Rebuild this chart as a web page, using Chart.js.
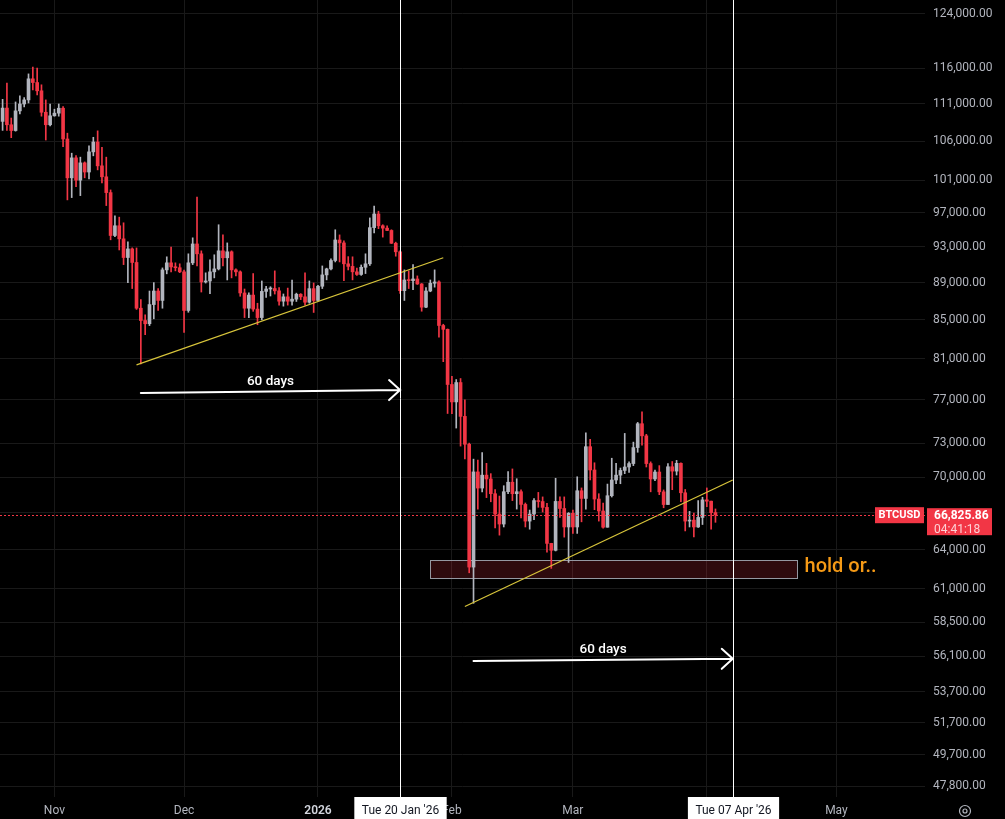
<!DOCTYPE html>
<html>
<head>
<meta charset="utf-8">
<title>BTCUSD daily</title>
<script src="https://cdn.jsdelivr.net/npm/chart.js@4.4.1/dist/chart.umd.min.js"></script>
<style>
    html, body { margin: 0; padding: 0; background: #000; overflow: hidden; }
    #wrap { width: 1005px; height: 819px; }
    canvas { display: block; }
</style>
</head>
<body>
<div id="wrap"><canvas id="btcChart" width="1005" height="819"></canvas></div>
<script>
document.addEventListener('DOMContentLoaded', () => {

    // --- CANDLES (daily, first one is 20 Oct 2025) ---
    const firstDay = '2025-10-20';
    const opens = [
        108600,110400,108150,107380,110020,110960,111520,114460,113940,112780,
        109830,108150,109350,109710,110380,106270,101290,103820,101000,103180,
        102020,104590,105870,102800,101420,99460,94330,95470,93940,91800,
        92780,91240,86230,84930,84590,86620,88080,87060,90410,91200,
        90740,90650,90190,85990,91200,93350,92220,89070,89180,90190,
        90520,92560,91770,92450,90410,90190,87870,86230,87640,86140,
        85240,88040,88300,88350,88100,86980,87450,86980,87200,87730,
        87450,86870,88340,87060,88600,89850,90520,91460,93810,93470,
        91090,90800,90190,89900,90700,91090,95250,96870,95470,95190,
        94920,93430,92450,88120,89290,89220,89400,88850,86340,88080,
        88930,89070,84410,84010,78480,76810,78670,75450,72900,62640,
        70450,69060,70170,69840,68580,66880,66060,68750,69560,68580,
        68750,67680,66300,66880,68000,67920,67430,64500,63950,67930,
        67340,65820,66940,65820,68830,68180,72680,70620,68130,67130,
        65800,68410,69750,70170,70580,70880,71180,72600,74770,73660,
        71180,69840,70440,68740,67670,70900,70520,71200,68660,66300,
        66380,65820,66600,68060,67950,67000
    ];
    const highs = [
        111600,113860,109050,111240,112080,111840,115160,116150,116000,113620,
        111520,110960,110250,110960,110600,107030,104420,104120,103910,103300,
        105360,106490,107340,105190,103910,99790,96650,96490,95820,93590,
        92900,92890,87160,85530,88080,89000,88350,90630,91880,93000,
        91200,91090,90400,92220,94060,98900,92560,90080,91540,92110,
        95590,94410,93470,92560,90520,90300,88300,87870,90000,86760,
        89180,88600,88550,90300,88450,87760,88400,89290,87850,87800,
        90080,89180,88960,88700,90850,90600,91650,95000,94400,93700,
        91900,91880,90600,90960,92220,96400,97830,97200,95590,95470,
        95000,93560,92560,90410,90300,91000,89740,88900,88460,89290,
        90410,89200,84540,84050,79280,78960,79060,77000,73000,71570,
        71480,72150,71200,70300,68930,68380,69260,70490,70710,69860,
        68910,67800,67210,68170,68690,68310,67760,64510,69900,68310,
        68310,67000,67200,70030,69070,73940,73340,71250,68580,67800,
        69400,71650,71200,70790,73880,71330,73090,74890,75880,73800,
        71330,70620,71000,68900,71180,71360,71460,71250,68940,67100,
        66960,68000,68280,69070,67950,67300
    ];
    const lows = [
        107400,107400,106440,107300,109620,110560,111100,112920,112220,109300,
        106130,108000,109300,109300,105270,98570,98850,100190,99090,101290,
        101170,104080,102290,100670,97880,93830,94200,92660,91000,89000,
        88350,86100,80490,83460,84400,85110,85990,86230,89970,90190,
        90300,90100,83700,85800,91000,90850,87970,88950,87780,89520,
        90400,90850,89290,89520,89740,87510,85240,85240,85900,84490,
        85000,87400,87540,87750,86560,86450,86560,86560,86950,87150,
        86560,86760,85780,87000,88350,89300,90400,91300,91300,89200,
        90400,89300,89800,89800,90000,90900,94630,95130,94140,94900,
        93400,91950,87820,87060,88350,88240,88800,85910,86300,88000,
        88500,83210,80720,75720,75700,74370,72730,71600,62200,59900,
        67290,68740,68250,67900,65740,65160,65820,68580,68000,67290,
        66560,65820,65640,66420,67440,67050,63800,62540,63900,66600,
        65000,63000,65300,65300,66240,67290,69750,67240,66300,65730,
        65800,68300,69430,69430,70300,70400,71000,72180,72820,70880,
        68740,69700,68500,67400,67670,68920,70180,67900,65500,65820,
        65020,65780,66020,67490,65640,66200
    ];
    const closes = [
        110400,108150,107380,110020,110960,111520,114460,113940,112780,109830,
        108150,109350,109710,110380,106270,101290,103820,101000,103180,102020,
        104590,105870,102800,101420,99460,94330,95470,93940,91800,92780,
        91240,86230,84930,84590,86620,88080,87060,90410,91200,90740,
        90650,90190,85990,91200,93350,92220,89070,89180,90190,90520,
        92560,91770,92450,90410,90190,87870,86230,87640,86140,85240,
        88040,88300,88350,88100,86980,87450,86980,87200,87730,87450,
        86870,88340,87060,88600,89850,90520,91460,93810,93470,91090,
        90800,90190,89900,90700,91090,95250,96870,95470,95190,94920,
        93430,92450,88120,89290,89220,89400,88850,86340,88080,88930,
        89070,84410,84010,78480,76810,78670,75450,72900,62640,70450,
        69060,70170,69840,68580,66880,66060,68750,69560,68580,68750,
        67680,66300,66880,68000,67920,67430,64500,63950,67930,67340,
        65820,66940,65820,68830,68180,72680,70620,68130,67130,65800,
        68410,69750,70170,70580,70880,71180,72600,74770,73660,71180,
        69840,70440,68740,67670,70900,70520,71200,68660,66300,66380,
        65820,66600,68060,67950,67000,66825.86
    ];

    // --- AXIS TICKS ---
    const priceTicks = [124000, 116000, 111000, 106000, 101000, 97000, 93000, 89000, 85000, 81000,
        77000, 73000, 70000, 67000, 64000, 61000, 58500, 56100, 53700, 51700, 49700, 47800];
    const hiddenPriceTicks = [67000];   // sits under the last price tag
    const monthDates = ['2025-11-01', '2025-12-01', '2026-01-01', '2026-02-01', '2026-03-01', '2026-04-01', '2026-05-01'];
    const monthLabels = ['Nov', 'Dec', '2026', 'Feb', 'Mar', 'Apr', 'May'];

    // --- DRAWINGS ON THE CHART ---
    const trendTop = [['2025-11-20', 80400], ['2026-01-30', 91770]];
    const trendBottom = [['2026-02-04', 59670], ['2026-04-07', 69750]];
    const arrows = [
        [['2025-11-21', 77660], ['2026-01-20', 77940]],
        [['2026-02-06', 55790], ['2026-04-07', 55930]]
    ];
    const arrowLabels = ['60 days', '60 days'];
    const markerDates = ['2026-01-20', '2026-04-07'];
    const markerLabels = ["Tue 20 Jan '26", "Tue 07 Apr '26"];
    const zoneDates = ['2026-01-27', '2026-04-22'];
    const zonePrices = [63170, 61780];
    const zoneLabel = 'hold or..';
    const symbol = 'BTCUSD';
    const countdown = '04:41:18';

    // --- HELPERS ---
    const DAY = 86400000;
    const origin = Date.parse('2026-01-01T00:00:00Z');
    const dayOf = (s) => (Date.parse(s + 'T00:00:00Z') - origin) / DAY;
    const monthDays = monthDates.map(dayOf);
    const start = dayOf(firstDay);
    const fmt = (v) => Number(v).toLocaleString('en-US', { minimumFractionDigits: 2, maximumFractionDigits: 2 });
    const FONT = 'Roboto, "Noto Sans", sans-serif';

    const upColor = '#b2b5be';
    const downColor = '#f23645';
    const candleColors = closes.map((c, i) => (c >= opens[i] ? upColor : downColor));
    const bodyData = closes.map((c, i) => ({ x: start + i, y: [opens[i], c] }));
    const wickData = closes.map((c, i) => ({ x: start + i, y: [lows[i], highs[i]] }));
    const lineData = (pts) => pts.map(p => ({ x: dayOf(p[0]), y: p[1] }));
    const gridColor = '#191919';

    // --- OVERLAY PLUGIN (zone, price line, arrows, markers, tags) ---
    const overlay = {
        id: 'overlay',
        beforeDraw(chart) {
            const { ctx, width, height } = chart;
            ctx.save();
            ctx.fillStyle = '#000';
            ctx.fillRect(0, 0, width, height);
            ctx.restore();
        },
        beforeDatasetsDraw(chart) {
            const { ctx, scales: { x, y } } = chart;
            const x1 = x.getPixelForValue(dayOf(zoneDates[0]));
            const x2 = x.getPixelForValue(dayOf(zoneDates[1]));
            const y1 = y.getPixelForValue(zonePrices[0]);
            const y2 = y.getPixelForValue(zonePrices[1]);
            ctx.save();
            ctx.fillStyle = 'rgba(242, 54, 69, 0.19)';
            ctx.fillRect(x1, y1, x2 - x1, y2 - y1);
            ctx.strokeStyle = '#9598a1';
            ctx.lineWidth = 1;
            ctx.strokeRect(Math.round(x1) + 0.5, Math.round(y1) + 0.5, Math.round(x2 - x1), Math.round(y2 - y1));
            ctx.restore();
        },
        afterDatasetsDraw(chart) {
            const { ctx, chartArea: area, scales: { x, y } } = chart;
            ctx.save();

            // last price line
            const lastY = Math.round(y.getPixelForValue(closes[closes.length - 1])) + 0.5;
            ctx.strokeStyle = downColor;
            ctx.lineWidth = 1;
            ctx.setLineDash([2, 2]);
            ctx.beginPath();
            ctx.moveTo(area.left, lastY);
            ctx.lineTo(area.right, lastY);
            ctx.stroke();
            ctx.setLineDash([]);

            // 60 days arrows
            arrows.forEach((a, i) => {
                const x1 = x.getPixelForValue(dayOf(a[0][0]));
                const y1 = y.getPixelForValue(a[0][1]);
                const x2 = x.getPixelForValue(dayOf(a[1][0]));
                const y2 = y.getPixelForValue(a[1][1]);
                ctx.strokeStyle = '#ffffff';
                ctx.lineWidth = 2;
                ctx.lineCap = 'round';
                ctx.beginPath();
                ctx.moveTo(x1, y1);
                ctx.lineTo(x2, y2);
                ctx.moveTo(x2 - 11, y2 - 10);
                ctx.lineTo(x2, y2);
                ctx.lineTo(x2 - 11, y2 + 10);
                ctx.stroke();
                ctx.fillStyle = '#ffffff';
                ctx.font = '500 13.5px ' + FONT;
                ctx.textAlign = 'center';
                ctx.textBaseline = 'alphabetic';
                ctx.fillText(arrowLabels[i], (x1 + x2) / 2, (y1 + y2) / 2 - 7);
            });

            // zone text
            const zx = x.getPixelForValue(dayOf(zoneDates[1]));
            const zy = y.getPixelForValue(zonePrices[1]);
            ctx.fillStyle = '#f59a16';
            ctx.font = '500 20px ' + FONT;
            ctx.textAlign = 'left';
            ctx.fillText(zoneLabel, zx + 7, zy - 6);
            ctx.restore();
        },
        afterDraw(chart) {
            const { ctx, chartArea: area, scales: { x, y } } = chart;
            ctx.save();

            // vertical markers + their date boxes
            markerDates.forEach((d, i) => {
                const mx = Math.round(x.getPixelForValue(dayOf(d))) + 0.5;
                ctx.strokeStyle = '#ffffff';
                ctx.lineWidth = 1;
                ctx.beginPath();
                ctx.moveTo(mx, area.top);
                ctx.lineTo(mx, area.bottom);
                ctx.stroke();

                ctx.font = '12px ' + FONT;
                const w = ctx.measureText(markerLabels[i]).width + 15;
                ctx.fillStyle = '#ffffff';
                ctx.fillRect(mx - w / 2, area.bottom, w, chart.height - area.bottom);
                ctx.fillStyle = '#131722';
                ctx.textAlign = 'center';
                ctx.textBaseline = 'middle';
                ctx.fillText(markerLabels[i], mx, area.bottom + 14);
            });

            // last price tags
            const lastY = y.getPixelForValue(closes[closes.length - 1]);
            ctx.fillStyle = downColor;
            ctx.fillRect(area.right - 50, lastY - 7.5, 49, 16);
            ctx.fillRect(area.right + 2, lastY - 6.5, 65, 27);
            ctx.fillStyle = '#ffffff';
            ctx.font = 'bold 11px ' + FONT;
            ctx.textAlign = 'center';
            ctx.textBaseline = 'middle';
            ctx.fillText(symbol, area.right - 25.5, lastY + 0.5);
            ctx.textAlign = 'left';
            ctx.font = 'bold 12px ' + FONT;
            ctx.fillText(fmt(closes[closes.length - 1]), area.right + 9, lastY + 1);
            ctx.fillStyle = 'rgba(255, 225, 228, 0.9)';
            ctx.font = '12px ' + FONT;
            ctx.fillText(countdown, area.right + 9, lastY + 15);

            // settings icon bottom right
            ctx.strokeStyle = '#b2b5be';
            ctx.lineWidth = 1.2;
            ctx.beginPath();
            ctx.arc(965, area.bottom + 14, 5.5, 0, Math.PI * 2);
            ctx.stroke();
            ctx.beginPath();
            ctx.arc(965, area.bottom + 14, 2, 0, Math.PI * 2);
            ctx.stroke();
            ctx.restore();
        }
    };

    // --- CHART ---
    const canvas = document.getElementById('btcChart');
    new Chart(canvas, {
        type: 'bar',
        data: {
            datasets: [
                { type: 'line', data: lineData(trendTop), borderColor: '#d8c53b', borderWidth: 1.2, pointRadius: 0, order: 0 },
                { type: 'line', data: lineData(trendBottom), borderColor: '#d8c53b', borderWidth: 1.2, pointRadius: 0, order: 0 },
                { label: 'bodies', data: bodyData, backgroundColor: candleColors, barThickness: 3, minBarLength: 1, grouped: false, order: 1 },
                { label: 'wicks', data: wickData, backgroundColor: candleColors, barThickness: 1, grouped: false, order: 2 }
            ]
        },
        options: {
            responsive: false,
            animation: false,
            devicePixelRatio: 1,
            events: [],
            layout: { padding: 0, autoPadding: false },
            plugins: { legend: { display: false }, tooltip: { enabled: false } },
            scales: {
                x: {
                    type: 'linear',
                    min: -73.6,
                    max: 140.5,
                    offset: false,
                    bounds: 'data',
                    grid: { color: gridColor, drawTicks: false, offset: false },
                    border: { display: false },
                    ticks: {
                        autoSkip: false,
                        maxRotation: 0,
                        padding: 7,
                        color: (c) => (c.tick && c.tick.value === 0 ? '#d1d4dc' : '#b2b5be'),
                        font: (c) => ({ family: FONT, size: 12, weight: c.tick && c.tick.value === 0 ? '600' : '400' }),
                        callback: (v) => { const k = monthDays.indexOf(v); return k >= 0 ? monthLabels[k] : ''; }
                    },
                    afterBuildTicks: (s) => { s.ticks = monthDays.map(v => ({ value: v })); },
                    afterFit: (s) => { s.height = 22; s.paddingLeft = 0; s.paddingRight = 0; }
                },
                y: {
                    type: 'logarithmic',
                    position: 'right',
                    min: 47160,
                    max: 126160,
                    bounds: 'data',
                    beginAtZero: false,
                    grid: { color: gridColor, drawTicks: false },
                    border: { display: false },
                    ticks: {
                        autoSkip: false,
                        padding: 8,
                        color: '#b2b5be',
                        font: { family: FONT, size: 12 },
                        callback: (v) => (hiddenPriceTicks.includes(v) ? '' : fmt(v))
                    },
                    afterBuildTicks: (s) => { s.ticks = priceTicks.map(v => ({ value: v })); },
                    afterFit: (s) => { s.width = 80; s.paddingTop = 0; s.paddingBottom = 0; }
                }
            }
        },
        plugins: [overlay]
    });
});
</script>
</body>
</html>
